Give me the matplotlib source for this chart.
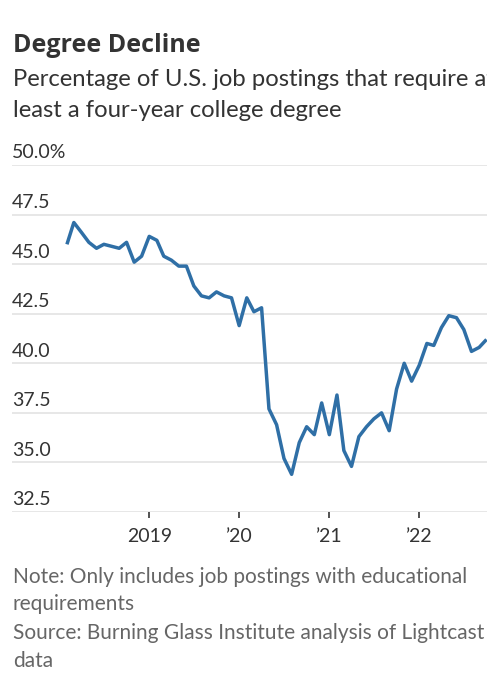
import matplotlib
matplotlib.use("Agg")
import matplotlib.pyplot as plt
import matplotlib.transforms as mtransforms
import pandas as pd

# monthly share of postings requiring a 4-year degree, Feb 2018 - Oct 2022
values = [
    46.0, 47.1, 46.6, 46.1, 45.8, 46.0, 45.9, 45.8, 46.1, 45.1, 45.4,   # 2018
    46.4, 46.2, 45.4, 45.2, 44.9, 44.9, 43.9, 43.4, 43.3, 43.6, 43.4, 43.3,  # 2019
    41.9, 43.3, 42.6, 42.8, 37.7, 36.9, 35.2, 34.4, 36.0, 36.8, 36.4, 38.0,  # 2020
    36.4, 38.4, 35.6, 34.8, 36.3, 36.8, 37.2, 37.5, 36.6, 38.7, 40.0, 39.1,  # 2021
    39.9, 41.0, 40.9, 41.8, 42.4, 42.3, 41.7, 40.6, 40.8, 41.2,              # 2022
]
months = pd.date_range("2018-02-01", periods=len(values), freq="MS")

y_ticks = [32.5, 35.0, 37.5, 40.0, 42.5, 45.0, 47.5, 50.0]
y_labels = ["32.5", "35.0", "37.5", "40.0", "42.5", "45.0", "47.5", "50.0%"]
x_ticks = pd.to_datetime(["2019-01-01", "2020-01-01", "2021-01-01", "2022-01-01"])
x_labels = ["2019", "\u201920", "\u201921", "\u201922"]

title = "Degree Decline"
subtitle = ["Percentage of U.S. job postings that require at",
            "least a four-year college degree"]
footer = ["Note: Only includes job postings with educational",
          "requirements",
          "Source: Burning Glass Institute analysis of Lightcast",
          "data"]

plt.rcParams["font.family"] = ["Lato", "DejaVu Sans"]

W, H = 487, 680
fig = plt.figure(figsize=(W / 100, H / 100), dpi=100)
fig.patch.set_facecolor("white")

# axes box in pixels: x 12..487, y 165..512 (from top)
ax = fig.add_axes([12 / W, 1 - 512 / H, 1 - 12 / W, (512 - 165) / H])
ax.set_facecolor("white")

ax.plot(months, values, color="#2f6fa6", lw=2.5, solid_joinstyle="round",
        solid_capstyle="butt", zorder=3)

ax.set_ylim(32.5, 50.0)
ax.set_xlim(pd.Timestamp("2017-06-23"), pd.Timestamp("2022-10-03"))

ax.set_yticks(y_ticks)
ax.yaxis.grid(True, color="#e3e3e3", lw=1.2, zorder=0)
ax.tick_params(axis="y", left=False, labelleft=False)

# y labels sit just above their gridlines, left aligned
trans = mtransforms.blended_transform_factory(ax.transAxes, ax.transData)
off = mtransforms.offset_copy(trans, fig=fig, x=0, y=3.5, units="dots")
for v, lab in zip(y_ticks, y_labels):
    ax.text(0, v, lab, transform=off, ha="left", va="bottom",
            fontsize=14, color="#333333")

ax.set_xticks(x_ticks)
ax.set_xticklabels(x_labels)
ax.tick_params(axis="x", direction="out", length=4.5, width=1.2, color="#333333",
               pad=7, labelsize=14, labelcolor="#333333")

for s in ax.spines.values():
    s.set_visible(False)

fig.text(13 / W, 1 - 52 / H, title, fontsize=18, fontweight="bold",
         family=["Open Sans", "DejaVu Sans"], color="#333333",
         va="baseline", ha="left")
for base, line in zip([86, 117], subtitle):
    fig.text(13 / W, 1 - base / H, line, fontsize=17.2, color="#333333",
             va="baseline", ha="left")
for base, line in zip([583, 610, 639, 667], footer):
    fig.text(13 / W, 1 - base / H, line, fontsize=15, color="#666666",
             va="baseline", ha="left")

fig.savefig("out.png", dpi=100, facecolor="white")
